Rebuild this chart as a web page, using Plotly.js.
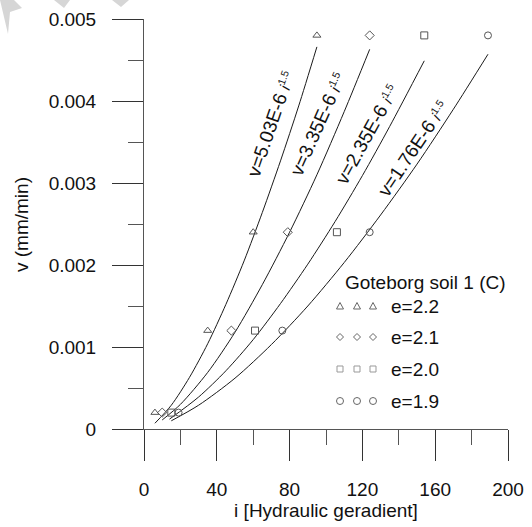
<!DOCTYPE html>
<html>
<head>
<meta charset="utf-8">
<script src="https://cdn.plot.ly/plotly-3.0.1.min.js"></script>
<style>html,body{margin:0;padding:0;background:#fff;}#chart{width:532px;height:527px;}</style>
</head>
<body>
<div id="chart"></div>
<script>
// Measured points (i = hydraulic gradient, v in mm/min)
const seriesNames = ["e=2.2", "e=2.1", "e=2.0", "e=1.9"];
const ptsX_e22 = [6, 35, 60, 95];
const ptsY_e22 = [0.0002, 0.0012, 0.0024, 0.0048];
const ptsX_e21 = [10, 48, 79, 124];
const ptsY_e21 = [0.0002, 0.0012, 0.0024, 0.0048];
const ptsX_e20 = [15, 61, 106, 154];
const ptsY_e20 = [0.0002, 0.0012, 0.0024, 0.0048];
const ptsX_e19 = [19, 76, 124, 189];
const ptsY_e19 = [0.0002, 0.0012, 0.0024, 0.0048];

// Fitted curves
const fitX_e22 = [6, 15, 25, 35, 45, 55, 65, 75, 85, 95];
const fitY_e22 = [0.00007, 0.00029, 0.00063, 0.00104, 0.00152, 0.00205, 0.00264, 0.00327, 0.00394, 0.00466];
const fitX_e21 = [10, 20, 35, 50, 65, 80, 95, 110, 124];
const fitY_e21 = [0.00011, 0.00030, 0.00069, 0.00118, 0.00176, 0.00240, 0.00310, 0.00387, 0.00463];
const fitX_e20 = [14, 30, 45, 60, 75, 90, 105, 120, 135, 154];
const fitY_e20 = [0.00012, 0.00039, 0.00071, 0.00109, 0.00153, 0.00201, 0.00253, 0.00309, 0.00369, 0.00449];
const fitX_e19 = [15, 30, 50, 70, 90, 110, 130, 150, 170, 189];
const fitY_e19 = [0.00010, 0.00029, 0.00062, 0.00103, 0.00150, 0.00203, 0.00261, 0.00323, 0.00390, 0.00457];

const fitLabels = ["v=5.03E-6 ", "v=3.35E-6 ", "v=2.35E-6 ", "v=1.76E-6 "];

const xTickVals = [0, 40, 80, 120, 160, 200];
const xTickText = ["0", "40", "80", "120", "160", "200"];
const yTickVals = [0, 0.001, 0.002, 0.003, 0.004, 0.005];
const yTickText = ["0", "0.001", "0.002", "0.003", "0.004", "0.005"];

const legendTitle = "Goteborg soil 1 (C)";
const xTitle = "i [Hydraulic geradient]";
const yTitle = "v (mm/min)";

const FONT = "Liberation Sans, Arial, sans-serif";
const markerSymbols = ["triangle-up-open", "diamond-open", "square-open", "circle-open"];
const ptsX = [ptsX_e22, ptsX_e21, ptsX_e20, ptsX_e19];
const ptsY = [ptsY_e22, ptsY_e21, ptsY_e20, ptsY_e19];
const fitX = [fitX_e22, fitX_e21, fitX_e20, fitX_e19];
const fitY = [fitY_e22, fitY_e21, fitY_e20, fitY_e19];

const traces = [];
for (let k = 0; k < 4; k++) {
  traces.push({
    x: fitX[k], y: fitY[k], mode: "lines", type: "scatter",
    line: {color: "#1a1a1a", width: 1, shape: "spline", smoothing: 0.8},
    showlegend: false, hoverinfo: "skip"
  });
  traces.push({
    x: ptsX[k], y: ptsY[k], mode: "markers", type: "scatter", name: seriesNames[k],
    marker: {symbol: markerSymbols[k], size: 7, color: "#555", line: {width: 1, color: "#555"}},
    showlegend: false
  });
}

// paper-coordinate helpers (plot area: x 144..508, y 19..429 px)
function px2paperX(p) { return (p - 144) / 364; }
function px2paperY(p) { return (429 - p) / 410; }

// label placement (data coords) and angles
const labelPos = [[70, 0.00372, -71], [96, 0.00372, -66], [123, 0.00360, -61], [148, 0.00342, -56]];
const annotations = [];
for (let k = 0; k < 4; k++) {
  annotations.push({
    x: labelPos[k][0], y: labelPos[k][1], xref: "x", yref: "y",
    text: fitLabels[k] + "<span style='font-size:15px'><i>i</i><sup>1.5</sup></span>",
    textangle: labelPos[k][2], showarrow: false,
    font: {family: FONT, size: 19, color: "#111"}
  });
}
annotations.push({
  x: px2paperX(343), y: px2paperY(282), xref: "paper", yref: "paper",
  xanchor: "left", yanchor: "middle", text: legendTitle, showarrow: false,
  font: {family: FONT, size: 19, color: "#111"}
});
annotations.push({
  x: px2paperX(21), y: px2paperY(224), xref: "paper", yref: "paper",
  xanchor: "center", yanchor: "middle", text: yTitle, textangle: -90, showarrow: false,
  font: {family: FONT, size: 19, color: "#111"}
});
const legY = [306, 337, 369, 401];
const legGX = [340, 357, 373];
for (let k = 0; k < 4; k++) {
  annotations.push({
    x: px2paperX(389), y: px2paperY(legY[k]), xref: "paper", yref: "paper",
    xanchor: "left", yanchor: "middle", text: seriesNames[k], showarrow: false,
    font: {family: FONT, size: 19, color: "#111"}
  });
}

const wm = "#d6d6d6";
function P(x, y) { return px2paperX(x) + "," + px2paperY(y); }
const shapes = [
  {type: "path", xref: "paper", yref: "paper",
   path: "M " + P(0, 0) + " L " + P(14, 0) + " L " + P(22, 8) + " L " + P(10, 12) + " L " + P(8, 34) + " Z",
   fillcolor: wm, line: {width: 0}, layer: "below"},
  {type: "path", xref: "paper", yref: "paper",
   path: "M " + P(54, 0) + " L " + P(70, 0) + " L " + P(64, 8) + " Z",
   fillcolor: wm, line: {width: 0}, layer: "below"},
  {type: "path", xref: "paper", yref: "paper",
   path: "M " + P(112, 0) + " L " + P(129, 0) + " L " + P(121, 7) + " Z",
   fillcolor: wm, line: {width: 0}, layer: "below"}
];
// legend glyphs (decoration)
const gl = {color: "#666", width: 1};
for (let j = 0; j < 3; j++) {
  const cx = legGX[j];
  let cy = legY[0];
  shapes.push({type: "path", xref: "paper", yref: "paper",
    path: "M " + P(cx - 3.5, cy + 3) + " L " + P(cx + 3.5, cy + 3) + " L " + P(cx, cy - 3.5) + " Z", line: gl});
  cy = legY[1];
  shapes.push({type: "path", xref: "paper", yref: "paper",
    path: "M " + P(cx - 3.5, cy) + " L " + P(cx, cy - 3.5) + " L " + P(cx + 3.5, cy) + " L " + P(cx, cy + 3.5) + " Z", line: gl});
  cy = legY[2];
  shapes.push({type: "rect", xref: "paper", yref: "paper",
    x0: px2paperX(cx - 3), x1: px2paperX(cx + 3), y0: px2paperY(cy + 3), y1: px2paperY(cy - 3), line: {color: "#999", width: 1}});
  cy = legY[3];
  shapes.push({type: "circle", xref: "paper", yref: "paper",
    x0: px2paperX(cx - 3.5), x1: px2paperX(cx + 3.5), y0: px2paperY(cy + 3.5), y1: px2paperY(cy - 3.5), line: gl});
}

const layout = {
  width: 532, height: 527,
  margin: {l: 144, r: 24, t: 19, b: 98, pad: 0},
  paper_bgcolor: "#fff", plot_bgcolor: "#fff",
  font: {family: FONT, size: 19, color: "#111"},
  showlegend: false,
  xaxis: {
    range: [0, 200], showgrid: false, zeroline: false,
    showline: true, linecolor: "#555", linewidth: 1,
    ticks: "outside", ticklen: 31, tickcolor: "#333", tickwidth: 1,
    tickvals: xTickVals, ticktext: xTickText, ticklabelstandoff: 12,
    tickfont: {family: FONT, size: 19, color: "#111"},
    minor: {dtick: 20, tick0: 0, ticks: "outside", ticklen: 15, tickcolor: "#555", tickwidth: 1, showgrid: false},
    title: {text: xTitle, font: {family: FONT, size: 19, color: "#111"}, standoff: 4}
  },
  yaxis: {
    range: [0, 0.005], showgrid: false, zeroline: false,
    showline: true, linecolor: "#555", linewidth: 1,
    ticks: "outside", ticklen: 31, tickcolor: "#333", tickwidth: 1,
    tickvals: yTickVals, ticktext: yTickText, ticklabelstandoff: 12,
    tickfont: {family: FONT, size: 19, color: "#111"},
    minor: {dtick: 0.0005, tick0: 0, ticks: "outside", ticklen: 15, tickcolor: "#555", tickwidth: 1, showgrid: false}
  },
  annotations: annotations,
  shapes: shapes
};

Plotly.newPlot("chart", traces, layout, {displayModeBar: false, staticPlot: true});
</script>
</body>
</html>
